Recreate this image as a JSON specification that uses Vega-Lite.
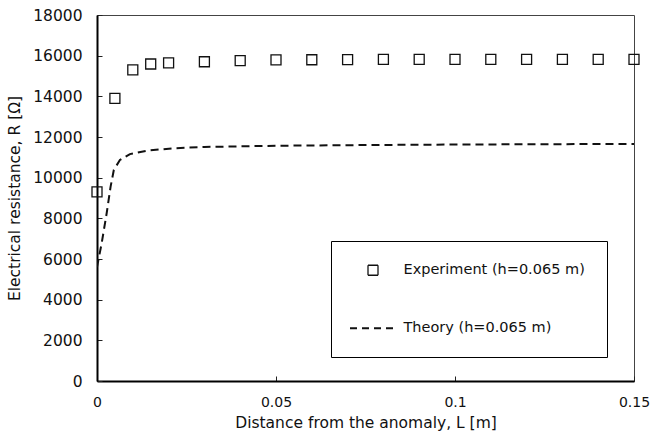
{
  "$schema": "https://vega.github.io/schema/vega-lite/v6.json",
  "width": 537,
  "height": 366,
  "autosize": "none",
  "padding": {"left": 97, "top": 15, "right": 16, "bottom": 56},
  "background": "white",
  "config": {
    "font": "DejaVu Sans",
    "view": {"stroke": "#444", "strokeWidth": 1}
  },
  "data": {
    "values": [
      {"series": "Experiment (h=0.065 m)", "L": 0, "R": 9300},
      {"series": "Experiment (h=0.065 m)", "L": 0.005, "R": 13900},
      {"series": "Experiment (h=0.065 m)", "L": 0.01, "R": 15300},
      {"series": "Experiment (h=0.065 m)", "L": 0.015, "R": 15590},
      {"series": "Experiment (h=0.065 m)", "L": 0.02, "R": 15650},
      {"series": "Experiment (h=0.065 m)", "L": 0.03, "R": 15700},
      {"series": "Experiment (h=0.065 m)", "L": 0.04, "R": 15760},
      {"series": "Experiment (h=0.065 m)", "L": 0.05, "R": 15790},
      {"series": "Experiment (h=0.065 m)", "L": 0.06, "R": 15800},
      {"series": "Experiment (h=0.065 m)", "L": 0.07, "R": 15810},
      {"series": "Experiment (h=0.065 m)", "L": 0.08, "R": 15815},
      {"series": "Experiment (h=0.065 m)", "L": 0.09, "R": 15820},
      {"series": "Experiment (h=0.065 m)", "L": 0.1, "R": 15820},
      {"series": "Experiment (h=0.065 m)", "L": 0.11, "R": 15820},
      {"series": "Experiment (h=0.065 m)", "L": 0.12, "R": 15820},
      {"series": "Experiment (h=0.065 m)", "L": 0.13, "R": 15820},
      {"series": "Experiment (h=0.065 m)", "L": 0.14, "R": 15820},
      {"series": "Experiment (h=0.065 m)", "L": 0.15, "R": 15820},
      {"series": "Theory (h=0.065 m)", "L": 0, "R": 5600},
      {"series": "Theory (h=0.065 m)", "L": 0.0013, "R": 6770},
      {"series": "Theory (h=0.065 m)", "L": 0.0027, "R": 8250},
      {"series": "Theory (h=0.065 m)", "L": 0.0038, "R": 9560},
      {"series": "Theory (h=0.065 m)", "L": 0.0047, "R": 10380},
      {"series": "Theory (h=0.065 m)", "L": 0.0064, "R": 10870},
      {"series": "Theory (h=0.065 m)", "L": 0.0092, "R": 11160},
      {"series": "Theory (h=0.065 m)", "L": 0.014, "R": 11330},
      {"series": "Theory (h=0.065 m)", "L": 0.021, "R": 11440},
      {"series": "Theory (h=0.065 m)", "L": 0.03, "R": 11510},
      {"series": "Theory (h=0.065 m)", "L": 0.05, "R": 11570},
      {"series": "Theory (h=0.065 m)", "L": 0.08, "R": 11610},
      {"series": "Theory (h=0.065 m)", "L": 0.1, "R": 11630},
      {"series": "Theory (h=0.065 m)", "L": 0.15, "R": 11660}
    ]
  },
  "encoding": {
    "x": {
      "field": "L", "type": "quantitative",
      "scale": {"domain": [0, 0.15], "nice": false, "zero": false},
      "axis": {
        "title": "Distance from the anomaly, L [m]",
        "values": [0, 0.05, 0.1, 0.15],
        "labelExpr": "datum.value",
        "labelFlush": false,
        "grid": false,
        "domainColor": "black", "domainWidth": 2,
        "tickColor": "#222", "tickSize": -5, "tickWidth": 1,
        "labelFontSize": 14, "labelColor": "#111", "labelPadding": 19,
        "titleFontSize": 15.5, "titleFontWeight": "normal", "titleColor": "#111", "titlePadding": 6
      }
    },
    "y": {
      "field": "R", "type": "quantitative",
      "scale": {"domain": [0, 18000], "nice": false},
      "axis": {
        "title": "Electrical resistance, R [Ω]",
        "values": [0, 2000, 4000, 6000, 8000, 10000, 12000, 14000, 16000, 18000],
        "format": "d",
        "labelFlush": false,
        "grid": false,
        "domainColor": "black", "domainWidth": 2,
        "tickColor": "#222", "tickSize": -5, "tickWidth": 1,
        "labelFontSize": 15.5, "labelColor": "#111", "labelPadding": 20,
        "titleFontSize": 15.5, "titleFontWeight": "normal", "titleColor": "#111", "titlePadding": 10
      }
    },
    "color": {
      "field": "series", "type": "nominal",
      "scale": {"domain": ["Experiment (h=0.065 m)", "Theory (h=0.065 m)"], "range": ["#111", "#111"]},
      "legend": {
        "title": null,
        "orient": "none",
        "legendX": 234,
        "legendY": 226,
        "direction": "vertical",
        "strokeColor": "black",
        "fillColor": "white",
        "padding": 22,
        "rowPadding": 42,
        "symbolSize": 2116,
        "labelOffset": 36,
        "labelFontSize": 14.5,
        "labelColor": "#111",
        "labelLimit": 300,
        "encode": {
          "symbols": {
            "update": {
              "x": {"value": 20},
              "shape": {"signal": "datum.value == 'Theory (h=0.065 m)' ? 'stroke' : 'square'"},
              "size": {"signal": "datum.value == 'Theory (h=0.065 m)' ? 2116 : 100"},
              "strokeDash": {"signal": "datum.value == 'Theory (h=0.065 m)' ? [7, 5] : [1, 0]"},
              "stroke": {"value": "#111"},
              "fill": {"value": "transparent"},
              "strokeWidth": {"signal": "datum.value == 'Theory (h=0.065 m)' ? 2 : 1.3"}
            }
          }
        }
      }
    }
  },
  "layer": [
    {
      "transform": [{"filter": "datum.series == 'Theory (h=0.065 m)'"}],
      "mark": {"type": "line", "strokeWidth": 2, "strokeDash": [8, 5], "clip": true}
    },
    {
      "transform": [{"filter": "datum.series == 'Experiment (h=0.065 m)'"}],
      "mark": {"type": "point", "shape": "square", "filled": false, "size": 100, "strokeWidth": 1.3, "opacity": 1}
    }
  ]
}
